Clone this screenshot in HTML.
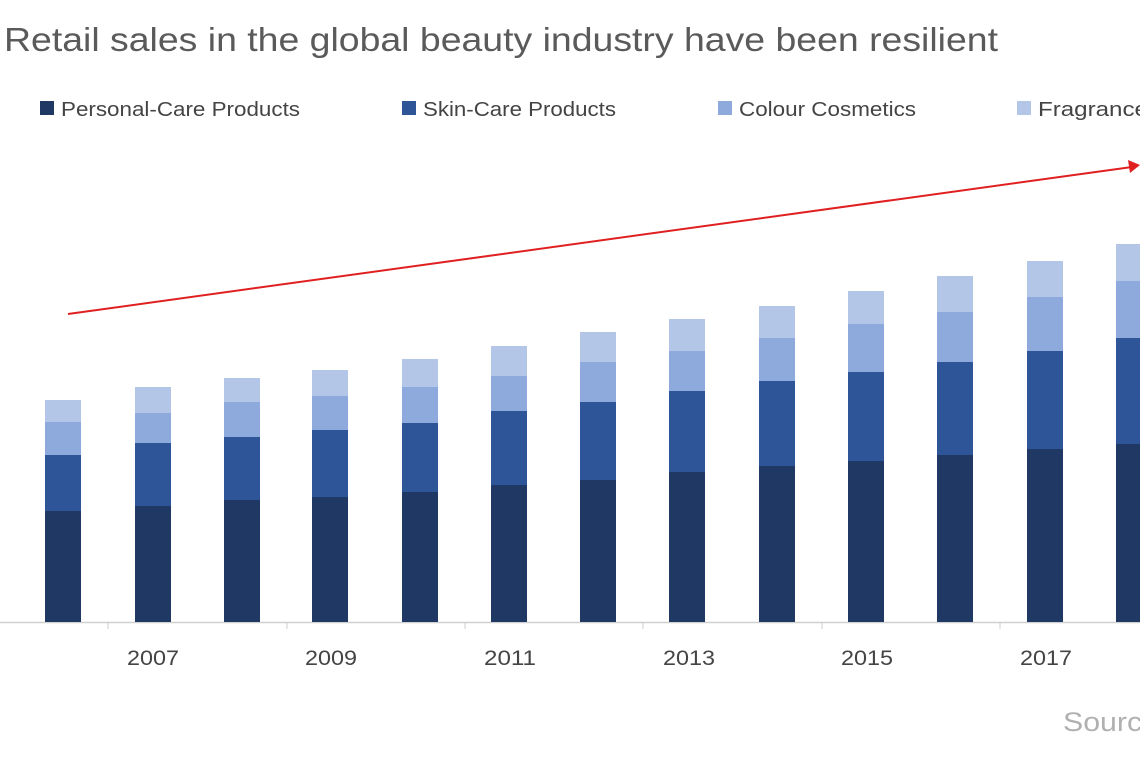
<!DOCTYPE html>
<html><head><meta charset="utf-8"><style>
body{margin:0;background:#fff;width:1140px;height:760px;overflow:hidden;font-family:"Liberation Sans",sans-serif;}
</style></head><body>
<svg width="1140" height="760" xmlns="http://www.w3.org/2000/svg" font-family="Liberation Sans, sans-serif">
<text x="4" y="51" font-size="33" fill="#5a5a5a" textLength="994" lengthAdjust="spacingAndGlyphs">Retail sales in the global beauty industry have been resilient</text>
<g font-size="20" fill="#444">
<rect x="40" y="101" width="14" height="14" fill="#1f3864"/><text x="61" y="116" textLength="239" lengthAdjust="spacingAndGlyphs">Personal-Care Products</text>
<rect x="402" y="101" width="14" height="14" fill="#2e5597"/><text x="423" y="116" textLength="193" lengthAdjust="spacingAndGlyphs">Skin-Care Products</text>
<rect x="718" y="101" width="14" height="14" fill="#8ea9db"/><text x="739" y="116" textLength="177" lengthAdjust="spacingAndGlyphs">Colour Cosmetics</text>
<rect x="1017" y="101" width="14" height="14" fill="#b4c6e7"/><text x="1038" y="116" textLength="122" lengthAdjust="spacingAndGlyphs">Fragrances</text>
</g>
<line x1="0" y1="622.5" x2="1140" y2="622.5" stroke="#d0d0d0" stroke-width="1.5"/>
<g id="bars"></g>
<g stroke="#ccc" stroke-width="1">
<line x1="108" y1="622" x2="108" y2="629"/><line x1="287" y1="622" x2="287" y2="629"/><line x1="465" y1="622" x2="465" y2="629"/><line x1="643" y1="622" x2="643" y2="629"/><line x1="822" y1="622" x2="822" y2="629"/><line x1="1000" y1="622" x2="1000" y2="629"/>
</g>
<g font-size="21" fill="#444" text-anchor="middle">
<text x="153" y="665" textLength="52" lengthAdjust="spacingAndGlyphs">2007</text><text x="331" y="665" textLength="52" lengthAdjust="spacingAndGlyphs">2009</text><text x="510" y="665" textLength="52" lengthAdjust="spacingAndGlyphs">2011</text><text x="689" y="665" textLength="52" lengthAdjust="spacingAndGlyphs">2013</text><text x="867" y="665" textLength="52" lengthAdjust="spacingAndGlyphs">2015</text><text x="1046" y="665" textLength="52" lengthAdjust="spacingAndGlyphs">2017</text>
</g>
<line x1="68" y1="314" x2="1132" y2="167" stroke="#e02020" stroke-width="2"/>
<polygon points="1140,165 1128,160 1130,173" fill="#e02020"/>
<text x="1063" y="731" font-size="27" fill="#b0b0b0" textLength="96" lengthAdjust="spacingAndGlyphs">Source</text>
</svg>
<script>
var d=[[45,400,422,455,511],[135,387,413,443,506],[224,378,402,437,500],[312,370,396,430,497],[402,359,387,423,492],[491,346,376,411,485],[580,332,362,402,480],[669,319,351,391,472],[759,306,338,381,466],[848,291,324,372,461],[937,276,312,362,455],[1027,261,297,351,449],[1116,244,281,338,444]];
var c=["#b4c6e7","#8ea9db","#2e5597","#1f3864"],s="";
d.forEach(function(b){var y=[b[1],b[2],b[3],b[4],622];for(var i=0;i<4;i++)s+='<rect x="'+b[0]+'" y="'+y[i]+'" width="36" height="'+(y[i+1]-y[i])+'" fill="'+c[i]+'"/>';});
document.getElementById("bars").innerHTML=s;
</script>
</body></html>
